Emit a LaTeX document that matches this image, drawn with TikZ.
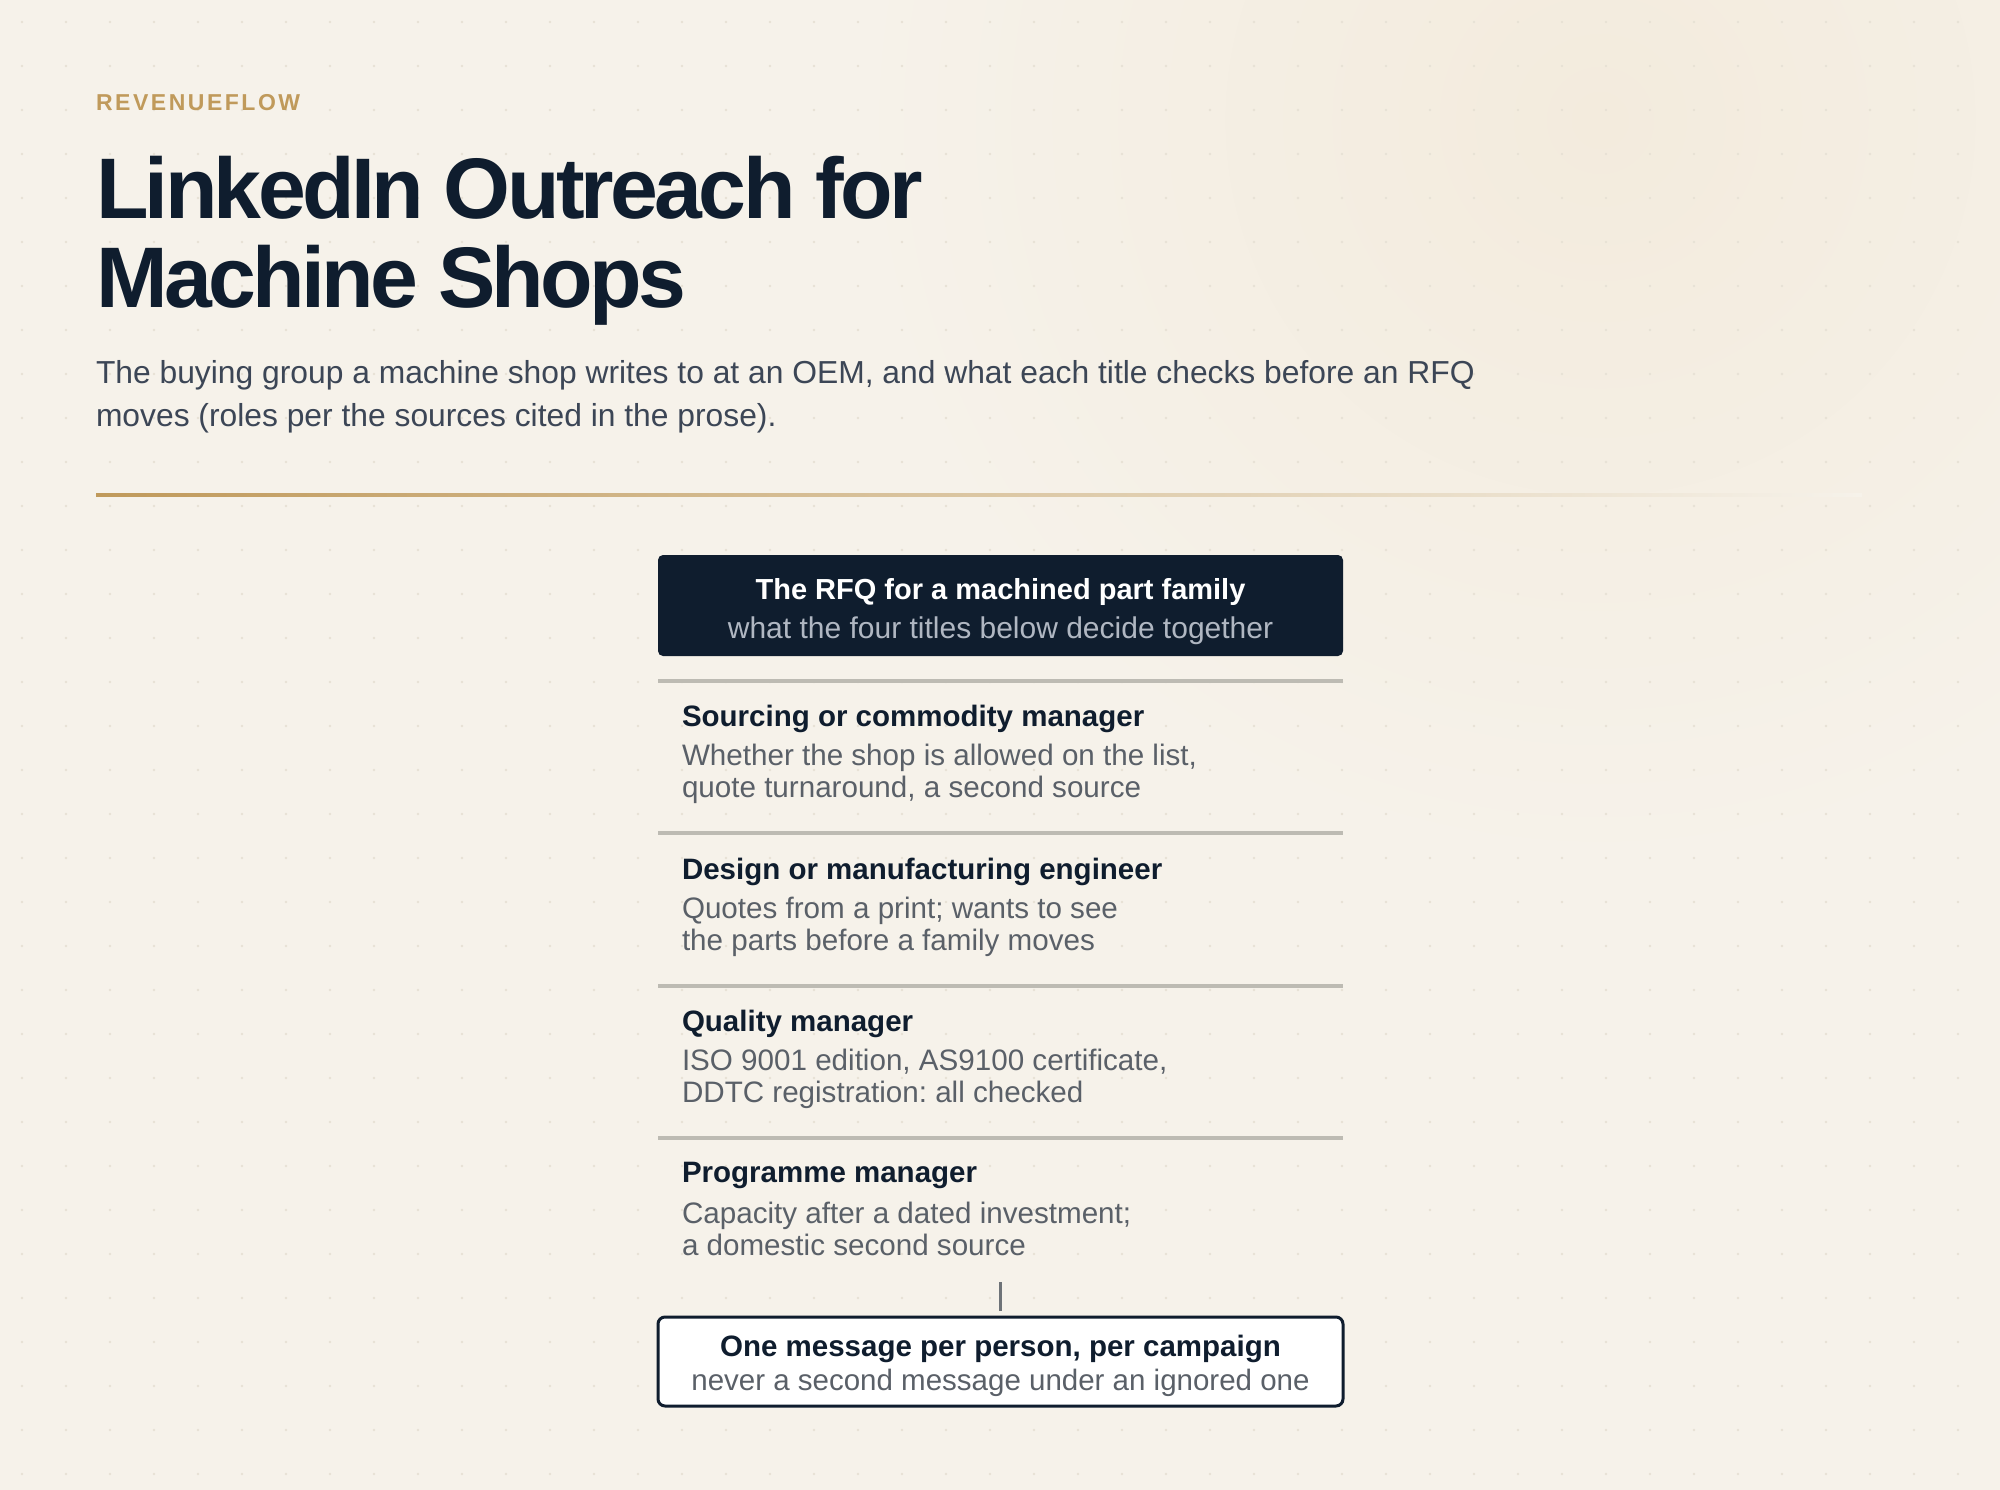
\documentclass[tikz,border=0pt]{standalone}
\usepackage{fontspec}
\setmainfont{Liberation Sans}
\newfontfamily\kickerfont[LetterSpace=11]{Liberation Sans}
\newfontfamily\headfont[LetterSpace=-4.3]{Liberation Sans}
\frenchspacing
\definecolor{bg}{HTML}{F6F2EA}
\definecolor{warm}{HTML}{F3EBDD}
\definecolor{dotc}{HTML}{E7E1D5}
\definecolor{gold}{HTML}{C09A5B}
\definecolor{navy}{HTML}{0F1D2E}
\definecolor{slate}{HTML}{3C4656}
\definecolor{bodyc}{HTML}{5A6068}
\definecolor{subc}{HTML}{B0B7C2}
\definecolor{sepc}{HTML}{BDBBB3}
\definecolor{linkc}{HTML}{6E7378}
\begin{document}
\begin{tikzpicture}[x=1pt,y=-1pt,
  txt/.style={inner sep=0pt, outer sep=0pt},
  kicker/.style={txt, anchor=base west, text=gold, font=\kickerfont\bfseries\fontsize{23}{23}\selectfont},
  headline/.style={txt, anchor=base west, text=navy, font=\headfont\bfseries\fontsize{86}{86}\selectfont},
  lede/.style={txt, anchor=base west, text=slate, font=\fontsize{31.8}{32}\selectfont},
  roletitle/.style={txt, anchor=base west, text=navy, font=\bfseries\fontsize{29.5}{30}\selectfont},
  rolebody/.style={txt, anchor=base west, text=bodyc, font=\fontsize{29.6}{30}\selectfont},
  sepline/.style={draw=sepc, line width=3.5pt},
  darkbox/.style={fill=navy, rounded corners=5pt},
  lightbox/.style={fill=white, draw=navy, line width=3pt, rounded corners=7pt},
  link/.style={draw=linkc, line width=2.2pt}
]
\useasboundingbox (0,0) rectangle (2000,1490);
% background
\fill[bg] (0,0) rectangle (2000,1490);
\shade[inner color=warm, outer color=bg] (1600,120) circle (750);
\foreach \i in {0,...,45}{
  \foreach \j in {0,...,33}{
    \fill[dotc] (22+44*\i,22+44*\j) circle (1.4);
  }
}
% header
\node[kicker] (kick) at (96,111) {REVENUEFLOW};
\node[headline] (h1) at (96,219) {LinkedIn Outreach for};
\node[headline] (h2) at (96,307) {Machine Shops};
\node[lede] (l1) at (96,383) {The buying group a machine shop writes to at an OEM, and what each title checks before an RFQ};
\node[lede] (l2) at (96,426) {moves (roles per the sources cited in the prose).};
\shade[left color=gold, right color=bg] (96,493.5) rectangle (1862,496.5);
% top box
\path[darkbox] (658,555) rectangle (1343,656);
\node[txt, anchor=base, text=white, font=\bfseries\fontsize{29}{29}\selectfont] (rfq) at (1000.5,599) {The RFQ for a machined part family};
\node[txt, anchor=base, text=subc, font=\fontsize{30}{30}\selectfont] (rfqs) at (1000.5,638) {what the four titles below decide together};
% separators
\foreach \y in {681,833,986,1138}{
  \draw[sepline] (658,\y) -- (1343,\y);
}
% roles
\node[roletitle] (r1) at (682,726) {Sourcing or commodity manager};
\node[rolebody] (r1a) at (682,765) {Whether the shop is allowed on the list,};
\node[rolebody] (r1b) at (682,797) {quote turnaround, a second source};
\node[roletitle] (r2) at (682,879) {Design or manufacturing engineer};
\node[rolebody] (r2a) at (682,918) {Quotes from a print; wants to see};
\node[rolebody] (r2b) at (682,950) {the parts before a family moves};
\node[roletitle] (r3) at (682,1031) {Quality manager};
\node[rolebody] (r3a) at (682,1070) {ISO 9001 edition, AS9100 certificate,};
\node[rolebody] (r3b) at (682,1102) {DDTC registration: all checked};
\node[roletitle] (r4) at (682,1182) {Programme manager};
\node[rolebody] (r4a) at (682,1223) {Capacity after a dated investment;};
\node[rolebody] (r4b) at (682,1255) {a domestic second source};
% bottom box
\node[lightbox, minimum width=685pt, minimum height=89pt, inner sep=0pt] (rule) at (1000.5,1361.5) {};
\node[txt, anchor=base, text=navy, font=\bfseries\fontsize{29.5}{30}\selectfont] (rulet) at (1000.5,1356) {One message per person, per campaign};
\node[txt, anchor=base, text=bodyc, font=\fontsize{29.5}{30}\selectfont] (rules) at (1000.5,1390) {never a second message under an ignored one};
\coordinate (cstart) at (1000.5,1282);
\draw[link, shorten >=5pt] (cstart) -- (rule.north);
\end{tikzpicture}
\end{document}
